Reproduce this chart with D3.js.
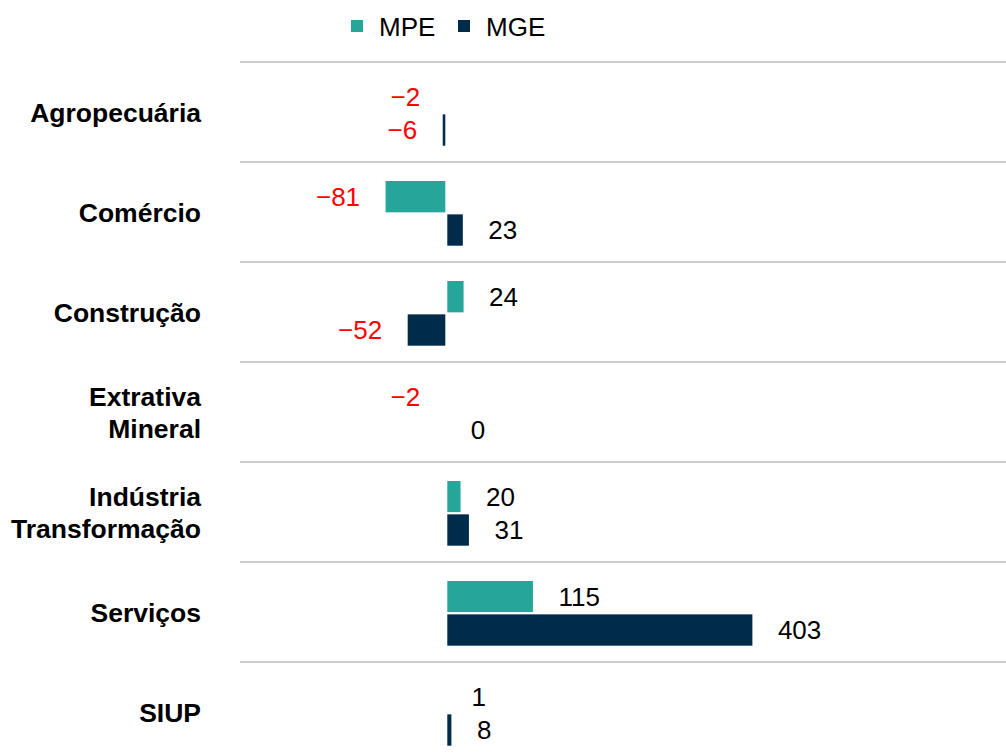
<!DOCTYPE html>
<html>
<head>
<meta charset="utf-8">
<script src="https://cdn.jsdelivr.net/npm/d3@7"></script>
<style>
  body { margin: 0; background: #fff; }
  text { font-family: "Liberation Sans", Arial, sans-serif; }
</style>
</head>
<body>
<div id="container"></div>
<script>
const categories = ["Agropecuária", "Comércio", "Construção", "Extrativa Mineral",
  "Indústria Transformação", "Serviços", "SIUP"];
const series = ["MPE", "MGE"];
const mpe = [-2, -81, 24, -2, 20, 115, 1];
const mge = [-6, 23, -52, 0, 31, 403, 8];

const colors = { MPE: "#26A69A", MGE: "#002B4A" };

const w = 1006;
const h = 755;
const fontSize = 26;

const rows = categories.map((c, i) => ({ cat: c, MPE: mpe[i], MGE: mge[i] }));

const svg = d3.select("#container")
  .append("svg")
  .attr("width", w)
  .attr("height", h);

const yScale = d3.scaleBand()
  .domain(categories)
  .range([62, 762]);

const inner = d3.scaleBand()
  .domain(series)
  .range([18, 84.7]);

const xScale = d3.scaleLinear()
  .domain([-200, 600])
  .range([446.3 - 200 * 0.762, 446.3 + 600 * 0.762]);

const fmt = v => (v < 0 ? "\u2212" + Math.abs(v) : String(v));

// grid lines between categories
svg.append("g")
  .selectAll("line")
  .data(categories)
  .enter()
  .append("line")
  .attr("x1", 240)
  .attr("x2", w)
  .attr("y1", d => yScale(d))
  .attr("y2", d => yScale(d))
  .attr("stroke", "#cccccc")
  .attr("stroke-width", 2);

// category labels
const catLabels = svg.append("g")
  .selectAll("text")
  .data(categories)
  .enter()
  .append("text")
  .attr("x", 201)
  .attr("text-anchor", "end")
  .attr("font-weight", "bold")
  .attr("font-size", 26.5)
  .attr("fill", "#000");

catLabels.each(function (d) {
  const lines = d.split(" ");
  const mid = yScale(d) + yScale.bandwidth() / 2 + 1;
  const start = mid - (lines.length - 1) * 16;
  d3.select(this).selectAll("tspan")
    .data(lines)
    .enter()
    .append("tspan")
    .attr("x", 201)
    .attr("y", (l, i) => start + i * 32)
    .attr("dy", "0.35em")
    .text(l => l);
});

// bars
const groups = svg.append("g")
  .selectAll("g")
  .data(rows)
  .enter()
  .append("g")
  .attr("transform", d => `translate(0, ${yScale(d.cat)})`);

groups.selectAll("rect")
  .data(d => series.map(s => ({ key: s, value: d[s] })))
  .enter()
  .append("rect")
  .attr("x", d => Math.min(xScale(0), xScale(d.value)))
  .attr("y", d => inner(d.key))
  .attr("width", d => Math.abs(xScale(d.value) - xScale(0)))
  .attr("height", inner.bandwidth())
  .attr("fill", d => colors[d.key])
  .attr("stroke", "#fff")
  .attr("stroke-width", 2);

groups.selectAll("text")
  .data(d => series.map(s => ({ key: s, value: d[s] })))
  .enter()
  .append("text")
  .attr("x", d => d.value < 0 ? xScale(d.value) - 24.5 : xScale(d.value) + 24.5)
  .attr("y", d => inner(d.key) + inner.bandwidth() / 2)
  .attr("dy", "0.35em")
  .attr("text-anchor", d => d.value < 0 ? "end" : "start")
  .attr("font-size", fontSize)
  .attr("fill", d => d.value < 0 ? "#ff0000" : "#000")
  .text(d => fmt(d.value));

// legend
const legend = svg.append("g");
const legendX = [351, 458];
series.forEach((s, i) => {
  legend.append("rect")
    .attr("x", legendX[i])
    .attr("y", 20)
    .attr("width", 12)
    .attr("height", 12)
    .attr("fill", colors[s]);
  legend.append("text")
    .attr("x", legendX[i] + 28)
    .attr("y", 27)
    .attr("dy", "0.35em")
    .attr("font-size", fontSize)
    .attr("fill", "#000")
    .text(s);
});
</script>
</body>
</html>
